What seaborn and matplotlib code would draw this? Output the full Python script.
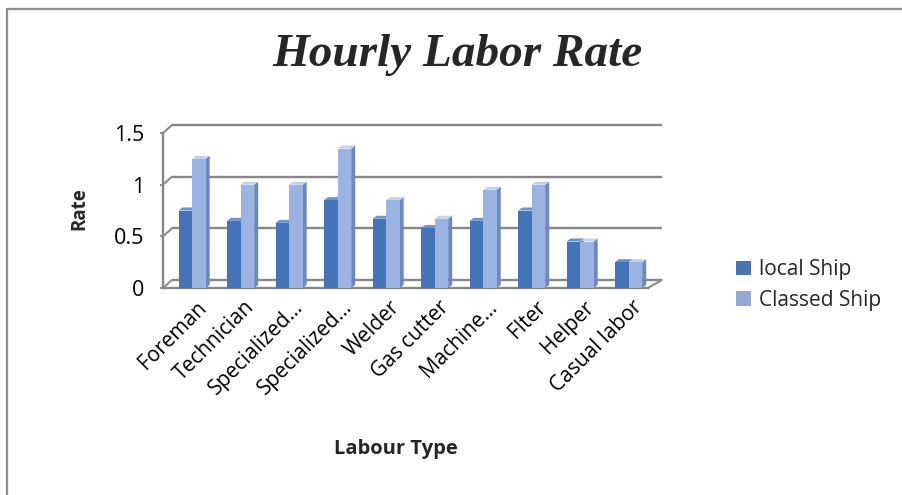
import matplotlib
matplotlib.use("Agg")
import matplotlib.pyplot as plt
import numpy as np
import pandas as pd
import seaborn as sns
from matplotlib.patches import Polygon, Patch
from matplotlib.lines import Line2D
from matplotlib.transforms import ScaledTranslation

# ---- data -------------------------------------------------------------
tick_labels = ["Foreman", "Technician", "Specialized...", "Specialized...",
               "Welder", "Gas cutter", "Machine...", "Flter", "Helper",
               "Casual labor"]
local_ship = [0.75, 0.65, 0.63, 0.85, 0.67, 0.58, 0.65, 0.75, 0.45, 0.25]
classed_ship = [1.25, 1.00, 1.00, 1.35, 0.85, 0.67, 0.95, 1.00, 0.45, 0.25]
series_names = ["local Ship", "Classed Ship"]
y_ticks = [0, 0.5, 1, 1.5]
y_tick_labels = ["0", "0.5", "1", "1.5"]

slots = list(range(len(tick_labels)))
df = pd.DataFrame({
    "slot": slots * 2,
    "rate": local_ship + classed_ship,
    "ship": [series_names[0]] * len(slots) + [series_names[1]] * len(slots),
})

# ---- style ------------------------------------------------------------
sns.set_style("white")
plt.rcParams["font.family"] = ["Open Sans", "DejaVu Sans"]

front = {"local Ship": "#4473b8", "Classed Ship": "#9ab3e0"}
side = {"local Ship": "#2c5188", "Classed Ship": "#6d89bb"}
top = {"local Ship": "#6b93cc", "Classed Ship": "#c2d2ee"}
legend_col = {"local Ship": "#4a76ad", "Classed Ship": "#94a8d3"}
grid_col = "#878787"
txt_size = 15

W, H, DPI = 902, 495, 100
fig = plt.figure(figsize=(W / DPI, H / DPI), dpi=DPI)
fig.patch.set_facecolor("white")

# axes rectangle in pixels (front plane of the 3-D box)
ax_l, ax_r, ax_b, ax_t = 163, 648, 288, 133
ax = fig.add_axes([ax_l / W, 1 - ax_b / H, (ax_r - ax_l) / W, (ax_b - ax_t) / H])

sns.barplot(data=df, x="slot", y="rate", hue="ship",
            hue_order=series_names,
            palette=[front[s] for s in series_names],
            width=0.56, gap=0, saturation=1, errorbar=None,
            edgecolor="none", linewidth=0, legend=False, ax=ax)

x0, x1 = -0.6, 9.4
ax.set_xlim(x0, x1)
ax.set_ylim(0, 1.5)

px_x = (ax_r - ax_l) / (x1 - x0)
px_y = (ax_b - ax_t) / 1.5

# ---- depth faces of the columns ---------------------------------------
bdx, bdy = 4 / px_x, 3 / px_y
bars = sorted(ax.patches, key=lambda p: p.get_x())
for k, bar in enumerate(bars):
    s = series_names[k % 2]
    x, w, h = bar.get_x(), bar.get_width(), bar.get_height()
    zf = 3 + k * 0.1
    bar.set_zorder(zf)
    bar.set_clip_on(False)
    side_face = Polygon([(x + w, 0), (x + w + bdx, bdy), (x + w + bdx, h + bdy), (x + w, h)],
                        closed=True, facecolor=side[s], edgecolor="none",
                        zorder=zf - 0.05, clip_on=False)
    top_face = Polygon([(x, h), (x + bdx, h + bdy), (x + w + bdx, h + bdy), (x + w, h)],
                       closed=True, facecolor=top[s], edgecolor="none",
                       zorder=zf - 0.05, clip_on=False)
    ax.add_patch(side_face)
    ax.add_patch(top_face)

# ---- back wall, floor and gridlines -----------------------------------
wdx, wdy = 9 / px_x, 8 / px_y
x_back_end = 9.5
for v in y_ticks:
    ax.plot([x0 + wdx, x_back_end + wdx], [v + wdy, v + wdy], color=grid_col,
            lw=1.7, zorder=1, clip_on=False, solid_capstyle="butt")
    ax.plot([x0, x0 + wdx], [v, v + wdy], color=grid_col, lw=1.4,
            zorder=1, clip_on=False)
ax.plot([x1, x_back_end + wdx], [0, wdy], color=grid_col, lw=1.4,
        zorder=1, clip_on=False)

for name in ["top", "right"]:
    ax.spines[name].set_visible(False)
for name in ["left", "bottom"]:
    ax.spines[name].set_color(grid_col)
    ax.spines[name].set_linewidth(1.7)
    ax.spines[name].set_zorder(1)

ax.set_yticks(y_ticks)
ax.set_yticklabels(y_tick_labels)
ax.tick_params(axis="y", length=2.4, width=1.3, color=grid_col, direction="out",
               pad=11, labelsize=15.5, labelcolor="black", left=True)

ax.set_xticks(slots)
ax.set_xticklabels(tick_labels, rotation=45, ha="right", va="baseline",
                   rotation_mode="anchor")
ax.tick_params(axis="x", length=0, pad=14.5, labelsize=txt_size, labelcolor="black")
for lbl in ax.get_xticklabels():
    lbl.set_transform(lbl.get_transform() + ScaledTranslation(15 / DPI, 0, fig.dpi_scale_trans))

ax.set_xlabel("")
ax.set_ylabel("")
ax.set_facecolor("none")

# ---- titles -----------------------------------------------------------
fig.text(457 / W, 1 - 66 / H, "Hourly Labor Rate", ha="center", va="baseline",
         fontsize=34, fontweight="bold", fontstyle="italic",
         family=["Liberation Serif", "DejaVu Serif"])
fig.text(79 / W, 1 - 209 / H, "Rate", rotation=90, ha="center", va="center",
         fontsize=13.5, fontweight="bold")
fig.text(396 / W, 1 - 449 / H, "Labour Type", ha="center", va="center",
         fontsize=14.5, fontweight="bold")

# ---- legend -----------------------------------------------------------
handles = [Patch(facecolor=legend_col[s], edgecolor="none", label=s) for s in series_names]
fig.legend(handles=handles, loc="center left",
           bbox_to_anchor=(728 / W, 1 - 285 / H), frameon=False,
           fontsize=txt_size, handlelength=0.7, handleheight=0.7,
           handletextpad=0.4, labelspacing=0.45, borderaxespad=0)

# ---- outer frame (left and top edges) ---------------------------------
fig.add_artist(Line2D([6.5 / W, 6.5 / W], [0, 1 - 8.5 / H], transform=fig.transFigure,
                      color="#8c8c8c", lw=1.6))
fig.add_artist(Line2D([6.5 / W, 1], [1 - 8.5 / H, 1 - 8.5 / H], transform=fig.transFigure,
                      color="#8c8c8c", lw=1.6))

fig.savefig("out.png", dpi=DPI)
